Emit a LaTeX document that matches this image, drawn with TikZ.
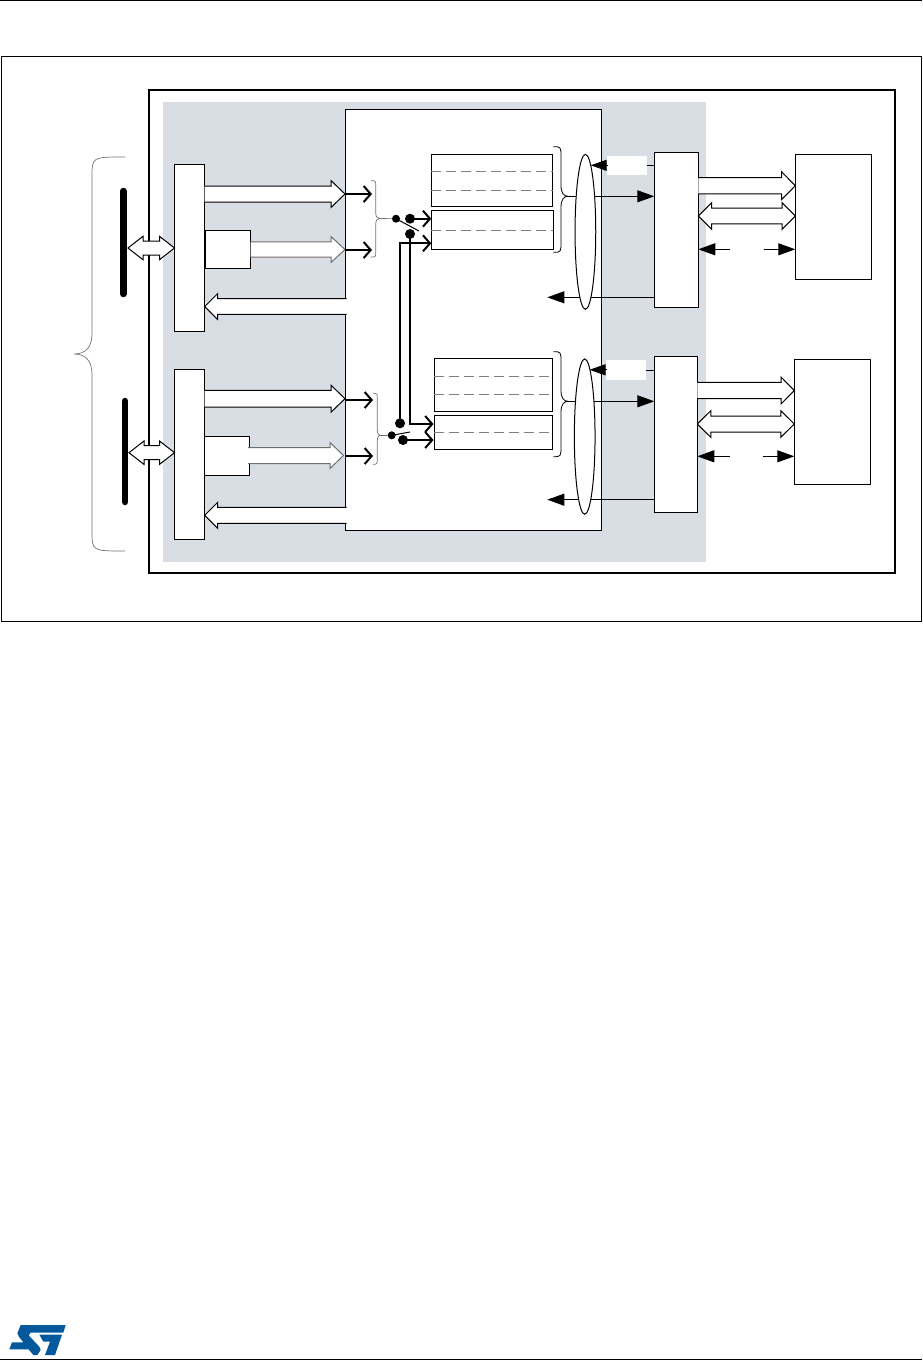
\documentclass[tikz,border=0pt]{standalone}
\usetikzlibrary{arrows.meta,calc,shapes.geometric}
\definecolor{panel}{HTML}{D9DEE5}
\definecolor{stblue}{HTML}{03599B}
\definecolor{edgegray}{HTML}{6E6E6E}
\tikzset{
  blk/.style={draw=black,fill=white,line width=1pt,inner sep=0pt,outer sep=0pt},
  lens/.style={ellipse,draw=black,fill=white,line width=1pt,inner sep=0pt,outer sep=0pt},
  tag/.style={fill=white,inner sep=0pt,outer sep=0pt},
  dot/.style={circle,fill=black,inner sep=0pt,outer sep=0pt,minimum size=#1},
  bus/.style={line width=6.5pt,line cap=round},
  dashrow/.style={draw=black!50,line width=0.8pt,dash pattern=on 9.5pt off 5.5pt},
  thin brace/.style={draw=black!55,line width=0.7pt},
  dark brace/.style={draw=black,line width=0.8pt},
  thickflow/.style={line width=2pt,-{Straight Barb[length=7pt,width=16pt,line width=2pt]}},
  thickline/.style={line width=2pt},
  thinflow/.style={line width=1pt,-{Triangle[length=17pt,width=12pt]}},
  thinline/.style={line width=1pt},
  swblade/.style={line width=1pt}
}
% hollow arrow pointing from #2 to #3 (horizontal), #1 outline colour, #4 half body, #5 head length, #6 half head
\newcommand\fatR[6][black]{%
  \fill[white] let \p1=(#2),\p2=(#3) in (\x1,\y1+#4pt) -- (\x2-#5pt,\y1+#4pt) -- (\x2-#5pt,\y1+#6pt) -- (\x2,\y1) -- (\x2-#5pt,\y1-#6pt) -- (\x2-#5pt,\y1-#4pt) -- (\x1,\y1-#4pt) -- cycle;
  \draw[#1,line width=1pt,line join=miter] let \p1=(#2),\p2=(#3) in (\x1,\y1+#4pt) -- (\x2-#5pt,\y1+#4pt) -- (\x2-#5pt,\y1+#6pt) -- (\x2,\y1) -- (\x2-#5pt,\y1-#6pt) -- (\x2-#5pt,\y1-#4pt) -- (\x1,\y1-#4pt);}
\newcommand\fatL[6][black]{%
  \fill[white] let \p1=(#2),\p2=(#3) in (\x1,\y1+#4pt) -- (\x2+#5pt,\y1+#4pt) -- (\x2+#5pt,\y1+#6pt) -- (\x2,\y1) -- (\x2+#5pt,\y1-#6pt) -- (\x2+#5pt,\y1-#4pt) -- (\x1,\y1-#4pt) -- cycle;
  \draw[#1,line width=1pt,line join=miter] let \p1=(#2),\p2=(#3) in (\x1,\y1+#4pt) -- (\x2+#5pt,\y1+#4pt) -- (\x2+#5pt,\y1+#6pt) -- (\x2,\y1) -- (\x2+#5pt,\y1-#6pt) -- (\x2+#5pt,\y1-#4pt) -- (\x1,\y1-#4pt);}
\newcommand\fatB[6][black]{%
  \path[fill=white,draw=#1,line width=1pt,line join=miter] let \p1=(#2),\p2=(#3) in (\x1,\y1) -- (\x1+#5pt,\y1+#6pt) -- (\x1+#5pt,\y1+#4pt) -- (\x2-#5pt,\y1+#4pt) -- (\x2-#5pt,\y1+#6pt) -- (\x2,\y1) -- (\x2-#5pt,\y1-#6pt) -- (\x2-#5pt,\y1-#4pt) -- (\x1+#5pt,\y1-#4pt) -- (\x1+#5pt,\y1-#6pt) -- cycle;}
% curly brace: #1 style, #2 arm x, #3 spine x, #4 tip x, #5 top, #6 tip y, #7 bottom, #8 radius
\newcommand\curl[8]{%
  \draw[#1] (#2,#5) .. controls (#3,#5) and (#3,#5) .. (#3,{#5+#8}) -- (#3,{#6-#8}) .. controls (#3,{#6-0.3*#8}) and ({#3+0.4*(#4-#3)},#6) .. (#4,#6) .. controls ({#3+0.4*(#4-#3)},#6) and (#3,{#6+0.3*#8}) .. (#3,{#6+#8}) -- (#3,{#7-#8}) .. controls (#3,#7) and (#3,#7) .. (#2,#7);}
\begin{document}
\begin{tikzpicture}[x=1pt,y=-1pt]
\useasboundingbox (0,0) rectangle (922,1361);
\fill[white] (0,0) rectangle (922,1361);
% page furniture
\draw[line width=1pt] (0,0.7) -- (922,0.7);
\draw[line width=1pt] (0,1359.8) -- (922,1359.8);
\begin{scope}[shift={(0,1300)},x=0.3333pt,y=-0.3333pt]
  \fill[stblue] (62,75) -- (197,75) -- (190,98) -- (92,98) -- (86,106) -- (118,140) -- (122,150) -- (112,165) -- (100,165) -- (86,148) -- (28,148) -- (36,127) -- (70,127) -- (58,112) -- (52,100) -- cycle;
  \fill[stblue] (118,104) -- (186,104) -- (165,165) -- (135,165) -- (150,125) -- (130,125) -- cycle;
\end{scope}
% frames
\draw[line width=1pt] (1.3,56.7) rectangle (921.4,621.4);
\draw[line width=2pt] (149,90) rectangle (895,573);
\fill[panel] (163,102) rectangle (706,562);
\node[blk,minimum width=256.5pt,minimum height=421pt] (core) at (473.25,319.5) {};
% left side
\node[blk,minimum width=30.2pt,minimum height=167pt] (portA) at (189.6,247.5) {};
\node[blk,minimum width=30.2pt,minimum height=170pt] (portB) at (189.6,454.3) {};
\node[blk,minimum width=45.5pt,minimum height=38pt] (smallA) at (227.9,249) {};
\node[blk,minimum width=44.6pt,minimum height=39pt] (smallB) at (227,455.8) {};
\draw[bus] (123.3,191) coordinate (busAt) -- (123.3,294) coordinate (busAb);
\draw[bus] (125,401) coordinate (busBt) -- (125,502) coordinate (busBb);
\curl{thin brace}{125}{92}{74}{157}{354}{551}{20}
\coordinate (busAend) at (128,248);
\coordinate (busBend) at (129,452.7);
\fatB{busAend}{portA.west |- 0,248}{7}{15}{11.7}
\fatB{busBend}{portB.west |- 0,452.7}{7}{15}{11.7}
% hollow flows, left
\coordinate (backAin) at (346.5,306.5);
\coordinate (backBin) at (346.5,515.3);
\coordinate (smallBout) at (248,455.5);
\fatR{portA.east |- 0,194}{core.west |- 0,194}{8}{14}{13.5}
\fatR[edgegray]{smallA.east |- 0,249.5}{core.west |- 0,249.5}{7.7}{14}{13}
\fatL{backAin}{portA.east |- 0,306.5}{7.8}{13}{13}
\fatR{portB.east |- 0,398.7}{core.west |- 0,398.7}{8.3}{14}{13.5}
\fatR[edgegray]{smallBout}{343.5,455.5}{8}{13.5}{13}
\fatL{backBin}{portB.east |- 0,515.3}{8}{13}{13}
% buffers
\node[blk,minimum width=121.4pt,minimum height=52pt] (fifoA) at (492,180.3) {};
\node[blk,minimum width=122pt,minimum height=39pt] (gateA) at (492.3,229.8) {};
\node[blk,minimum width=118.4pt,minimum height=53pt] (fifoB) at (493.5,384.8) {};
\node[blk,minimum width=118.4pt,minimum height=34pt] (gateB) at (493.5,432.3) {};
\draw[dashrow] (fifoA.west |- 0,171.3) -- (fifoA.east |- 0,171.3);
\draw[dashrow] (fifoA.west |- 0,190.3) -- (fifoA.east |- 0,190.3);
\draw[dashrow] (gateA.west |- 0,230.3) -- (gateA.east |- 0,230.3);
\draw[dashrow] (fifoB.west |- 0,376.3) -- (fifoB.east |- 0,376.3);
\draw[dashrow] (fifoB.west |- 0,394.3) -- (fifoB.east |- 0,394.3);
\draw[dashrow] (gateB.west |- 0,432.3) -- (gateB.east |- 0,432.3);
% small braces
\curl{thin brace}{371}{375.7}{379.5}{180.7}{218.5}{257}{6}
\curl{thin brace}{373}{377.3}{380}{393.3}{435.3}{464.3}{6}
\curl{dark brace}{553.3}{561}{568}{146.7}{196.3}{252.3}{11}
\curl{dark brace}{553.3}{561}{568}{351.7}{401.3}{456.7}{11}
% switches
\node[dot=8pt] (swAin) at (396,218.7) {};
\node[dot=10pt] (swAa) at (410,218.7) {};
\node[dot=10pt] (swAb) at (410,234) {};
\node[dot=8pt] (swBin) at (391.7,435.3) {};
\node[dot=10pt] (swBa) at (403,440) {};
\node[dot=10pt] (swBb) at (400,423.3) {};
\coordinate (bladeA) at (419,231);
\coordinate (bladeB) at (410,432);
\coordinate (braceAt) at (379.5,218.5);
\coordinate (braceBt) at (380,435.3);
\draw[thin brace] (braceAt) -- (swAin);
\draw[thin brace] (braceBt) -- (swBin);
\draw[swblade] (swAin.center) -- (bladeA);
\draw[swblade] (swBin.center) -- (bladeB);
% thick flows
\coordinate (inA1) at (372,194);
\coordinate (inA2) at (372,250);
\coordinate (inB1) at (373,400);
\coordinate (inB2) at (373,456);
\draw[thickflow] (core.west |- inA1) -- (inA1);
\draw[thickflow] (core.west |- inA2) -- (inA2);
\draw[thickflow] (core.west |- inB1) -- (inB1);
\draw[thickflow] (core.west |- inB2) -- (inB2);
\draw[thickflow] (swAa.center) -- (gateA.west |- swAa);
\draw[thickflow] (swBb.center) |- (gateA.west |- 0,243.3);
\draw[thickflow] (swAb.center) |- (433.5,424);
\draw[thickflow] (swBa.center) -- (433.5,440);
% right hand blocks
\node[blk,minimum width=44pt,minimum height=155pt] (ctrlA) at (676.3,229.8) {};
\node[blk,minimum width=43pt,minimum height=156pt] (ctrlB) at (675.8,434.3) {};
\node[blk,minimum width=76pt,minimum height=125pt] (memA) at (833.3,216.8) {};
\node[blk,minimum width=76pt,minimum height=125pt] (memB) at (832.3,421.8) {};
\coordinate (outA) at (547.3,297.3);
\coordinate (outB) at (547.3,499.7);
\draw[thinline] (ctrlA.west |- 0,165.3) -- (640,165.3);
\draw[thinline] (ctrlB.west |- 0,370.3) -- (640,370.3);
\draw[thinflow] (ctrlA.west |- outA) -- (outA);
\draw[thinflow] (ctrlB.west |- outB) -- (outB);
\draw[thinflow] (568,196.3) -- (ctrlA.west |- 0,196.3);
\draw[thinflow] (568,401.3) -- (ctrlB.west |- 0,401.3);
% lenses
\node[lens,minimum width=20.7pt,minimum height=155pt] (lensA) at (585.4,231.8) {};
\node[lens,minimum width=20.7pt,minimum height=155.3pt] (lensB) at (584.7,436.6) {};
% tags
\node[tag,minimum width=40pt,minimum height=18.7pt] (tagA) at (627,165.3) {};
\node[tag,minimum width=40pt,minimum height=19.7pt] (tagB) at (626,369.8) {};
\draw[-{Triangle[length=16pt,width=11pt]},line width=1pt,shorten <=-1pt] (tagA.west) -- (590.7,165.3);
\draw[-{Triangle[length=16pt,width=11pt]},line width=1pt,shorten <=-1pt] (tagB.west) -- (589.5,369.8);
% memory links
\fatR[black]{ctrlA.east |- 0,185.7}{memA.west |- 0,185.7}{8.2}{13.6}{13.8}
\fatB[black]{ctrlA.east |- 0,216}{memA.west |- 0,216}{7.8}{13.3}{13.3}
\fatR[black]{ctrlB.east |- 0,390.5}{memB.west |- 0,390.5}{8.2}{13.3}{13.5}
\fatB[black]{ctrlB.east |- 0,424}{memB.west |- 0,424}{8}{13.5}{13.3}
\coordinate (sigAl) at (730,249.3);
\coordinate (sigAr) at (764,249.3);
\coordinate (sigBl) at (730,456.3);
\coordinate (sigBr) at (763,456.3);
\draw[thinflow] (sigAl) -- (ctrlA.east |- sigAl);
\draw[thinflow] (sigAr) -- (memA.west |- sigAr);
\draw[thinflow] (sigBl) -- (ctrlB.east |- sigBl);
\draw[thinflow] (sigBr) -- (memB.west |- sigBr);
\end{tikzpicture}
\end{document}
